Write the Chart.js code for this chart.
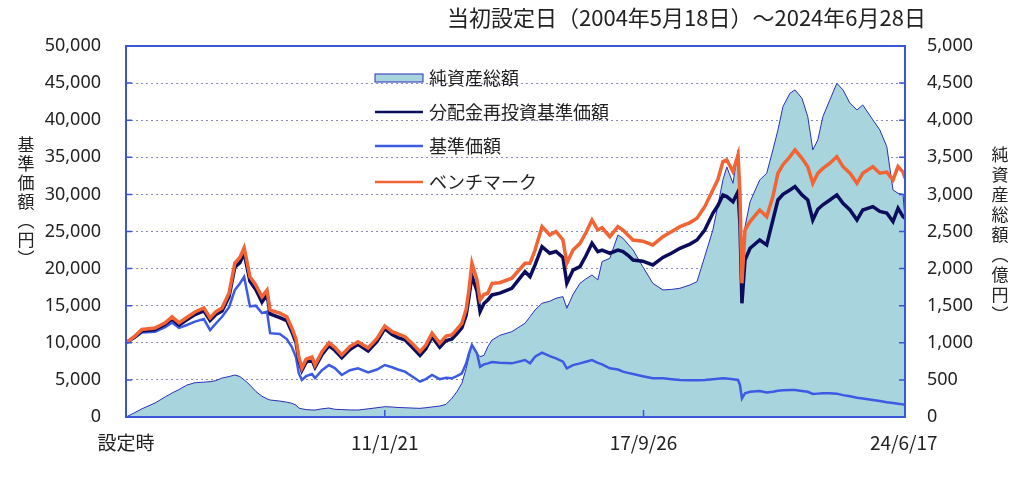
<!DOCTYPE html>
<html>
<head>
<meta charset="utf-8">
<script src="https://cdn.jsdelivr.net/npm/chart.js@4/dist/chart.umd.min.js"></script>
<style>
  body { margin: 0; background: #fff; }
</style>
</head>
<body>
<canvas id="fundChart" width="1024" height="484"></canvas>
<script>
// dates as decimal years (launch 2004/5/18 -> 2024/6/28)
var dates = [
  2004.38, 2004.61, 2004.79, 2005.13, 2005.39, 2005.57, 2005.75, 2005.95, 2006.16, 2006.39,
  2006.55, 2006.70, 2006.86, 2007.04, 2007.19, 2007.32, 2007.43, 2007.50, 2007.58, 2007.73,
  2007.89, 2008.02, 2008.10, 2008.35, 2008.53, 2008.66, 2008.77, 2008.84, 2008.92, 2009.03,
  2009.18, 2009.26, 2009.44, 2009.62, 2009.77, 2009.95, 2010.16, 2010.37, 2010.63, 2010.86,
  2011.06, 2011.25, 2011.40, 2011.58, 2011.79, 2011.97, 2012.12, 2012.28, 2012.48, 2012.64,
  2012.79, 2012.92, 2013.05, 2013.16, 2013.23, 2013.31, 2013.44, 2013.52, 2013.62, 2013.72,
  2013.83, 2014.03, 2014.34, 2014.68, 2014.81, 2014.94, 2015.12, 2015.32, 2015.48, 2015.66,
  2015.76, 2015.92, 2016.10, 2016.25, 2016.41, 2016.56, 2016.67, 2016.87, 2017.08, 2017.21,
  2017.34, 2017.47, 2017.72, 2017.98, 2018.24, 2018.47, 2018.68, 2018.94, 2019.12, 2019.32,
  2019.53, 2019.66, 2019.79, 2019.89, 2020.05, 2020.18, 2020.23, 2020.28, 2020.36, 2020.49,
  2020.74, 2020.92, 2021.08, 2021.21, 2021.34, 2021.52, 2021.65, 2021.83, 2021.98, 2022.11,
  2022.24, 2022.37, 2022.55, 2022.73, 2022.89, 2023.07, 2023.25, 2023.40, 2023.66, 2023.84,
  2024.02, 2024.18, 2024.31, 2024.44, 2024.49
];

// 純資産総額 (億円)
var netAssets = [
  0, 60, 110, 189, 270, 324, 370, 430, 462, 470,
  476, 490, 525, 545, 566, 545, 500, 470, 430, 345,
  280, 245, 229, 215, 200, 185, 160, 121, 110, 100,
  95, 94, 110, 121, 104, 100, 95, 94, 110, 125,
  139, 135, 128, 125, 120, 117, 125, 135, 148, 170,
  250, 340, 454, 650, 800, 980, 858, 813, 830, 947,
  1038, 1100, 1150, 1263, 1352, 1442, 1533, 1560, 1600, 1622,
  1465, 1650, 1802, 1860, 1914, 1847, 2094, 2139, 2453, 2409,
  2330, 2251, 2026, 1802, 1712, 1720, 1735, 1780, 1824, 2161,
  2521, 2850, 3195, 3370, 3150, 3600, 3000, 2300, 2565, 2900,
  3195, 3285, 3600, 3869, 4183, 4363, 4408, 4296, 4048, 3600,
  3734, 4048, 4273, 4498, 4408, 4229, 4138, 4206, 4004, 3869,
  3644, 3060, 3015, 3000, 2650
];

// 分配金再投資基準価額 (円)
var reinvestNav = [
  10000, 10800, 11600, 11800, 12500, 13200, 12400, 13100, 13800, 14300,
  13000, 13800, 14300, 16200, 20200, 20800, 22100, 20300, 18300, 17200,
  15500, 16500, 13900, 13400, 13000, 11500, 10000, 7700, 6300, 7400,
  7700, 6700, 8400, 9600, 9000, 8000, 9100, 9800, 8900, 10200,
  11900, 11100, 10700, 10400, 9300, 8300, 9200, 10800, 9400, 10300,
  10500, 11200, 12000, 13700, 16000, 19000, 17000, 14200, 15300, 15770,
  16450, 16700, 17350, 19590, 18920, 20500, 22960, 22070, 22300, 21500,
  18020, 19800, 20260, 21700, 23410, 22280, 22500, 22070, 22500, 22300,
  21800, 21160, 21000, 20490, 21500, 22100, 22740, 23300, 23860, 25200,
  27460, 28500, 29930, 29700, 29000, 30370, 26000, 15330, 21160, 22740,
  23860, 23190, 26550, 29250, 30000, 30600, 31050, 29930, 29250, 26550,
  28000, 28600, 29250, 29930, 28800, 27900, 26550, 27900, 28350, 27700,
  27500, 26330, 28130, 27000, 26790
];

// 基準価額 (円)
var nav = [
  10000, 10700, 11400, 11500, 12100, 12700, 12000, 12400, 12850, 13200,
  11700, 12600, 13500, 14800, 17100, 18000, 18900, 17000, 14900, 15000,
  14000, 14200, 11300, 11200, 10500, 9450, 8000, 5900, 5000, 5500,
  5800, 5250, 6300, 7000, 6600, 5660, 6300, 6560, 6000, 6400,
  7010, 6700, 6400, 6110, 5400, 4760, 5100, 5660, 5100, 5300,
  5210, 5500, 5890, 7200, 8500, 9700, 8590, 6780, 7100, 7230,
  7400, 7300, 7230, 7680, 7230, 8130, 8670, 8200, 7900, 7460,
  6560, 7000, 7230, 7450, 7680, 7300, 7100, 6560, 6400, 6110,
  5950, 5800, 5500, 5210, 5210, 5100, 4990, 4950, 4950, 5000,
  5100, 5150, 5210, 5200, 5100, 4990, 4300, 2520, 3200, 3410,
  3500, 3300, 3410, 3550, 3600, 3640, 3640, 3500, 3400, 3100,
  3150, 3200, 3200, 3150, 2950, 2800, 2600, 2500, 2290, 2150,
  2000, 1900, 1800, 1700, 1620
];

// ベンチマーク (円)
var benchmark = [
  10000, 10900, 11800, 12000, 12700, 13500, 12700, 13400, 14150, 14700,
  13350, 14200, 14700, 16700, 20750, 21500, 22800, 21000, 18900, 17800,
  16200, 17100, 14400, 14000, 13500, 12000, 10500, 8100, 6600, 7800,
  8100, 7000, 8800, 10000, 9400, 8360, 9500, 10150, 9300, 10600,
  12270, 11500, 11200, 10830, 9800, 8800, 9700, 11300, 9930, 10900,
  11050, 11800, 12630, 14500, 17000, 20720, 18470, 15770, 16500, 16680,
  18020, 18100, 18700, 20720, 20720, 22500, 25650, 24530, 25000, 23860,
  20720, 22500, 23410, 24800, 26550, 25200, 25500, 24300, 25650, 25200,
  24500, 23860, 23700, 23190, 24300, 25000, 25650, 26200, 26790, 28350,
  30600, 32000, 34420, 34650, 33070, 35320, 30000, 18020, 25200, 26330,
  27900, 27000, 29700, 32850, 34000, 35090, 36000, 34870, 33740, 31500,
  32850, 33500, 34200, 35090, 33740, 32850, 31500, 32850, 33740, 32850,
  33000, 31950, 33740, 33000, 32180
];

var tickDates = [2004.38, 2011.06, 2017.74, 2024.46];
var tickLabels = ['設定時', '11/1/21', '17/9/26', '24/6/17'];

var cjk = '"Noto Sans CJK JP", "Noto Sans", sans-serif';
var frameBlue = '#3b55d9';

function pts(arr) {
  return arr.map(function (v, i) { return { x: dates[i], y: v }; });
}

function drawVertical(ctx, text, x, y0, step) {
  var chars = Array.from(text);
  chars.forEach(function (c, i) {
    ctx.fillText(c, x, y0 + i * step);
  });
}

var decorations = {
  id: 'decorations',
  afterDraw: function (chart) {
    var ctx = chart.ctx;
    var a = chart.chartArea;
    var ys = chart.scales.y;
    var xs = chart.scales.x;
    ctx.save();

    // frame round the plot
    ctx.strokeStyle = frameBlue;
    ctx.lineWidth = 2;
    ctx.strokeRect(a.left, a.top, a.right - a.left, a.bottom - a.top);

    // inward tick marks
    ctx.lineWidth = 1.5;
    ctx.beginPath();
    ys.ticks.forEach(function (t) {
      var py = ys.getPixelForValue(t.value);
      ctx.moveTo(a.left, py); ctx.lineTo(a.left + 6, py);
      ctx.moveTo(a.right - 6, py); ctx.lineTo(a.right, py);
    });
    for (var i = 1; i < tickDates.length - 1; i++) {
      var px = xs.getPixelForValue(tickDates[i]);
      ctx.moveTo(px, a.bottom); ctx.lineTo(px, a.bottom - 7);
    }
    ctx.stroke();

    // title
    ctx.fillStyle = '#222';
    ctx.font = '22px ' + cjk;
    ctx.textAlign = 'left';
    ctx.textBaseline = 'middle';
    ctx.fillText('当初設定日（2004年5月18日）～2024年6月28日', 447, 18);

    // axis titles, written top to bottom
    ctx.font = '17px ' + cjk;
    ctx.textAlign = 'center';
    drawVertical(ctx, '基準価額︵円︶', 26, 145, 19);
    drawVertical(ctx, '純資産総額︵億円︶', 1000, 155, 20);

    // legend
    var rows = [78, 112, 146, 182];
    var lx = 375, lw = 48;
    ctx.font = '18px ' + cjk;
    ctx.textAlign = 'left';
    chart.data.datasets.forEach(function (ds, i) {
      var ly = rows[i];
      if (ds.fill) {
        ctx.fillStyle = ds.backgroundColor;
        ctx.fillRect(lx, ly - 4, lw, 8);
        ctx.strokeStyle = ds.borderColor;
        ctx.lineWidth = 1;
        ctx.strokeRect(lx, ly - 4, lw, 8);
      } else {
        ctx.strokeStyle = ds.borderColor;
        ctx.lineWidth = 2.5;
        ctx.beginPath();
        ctx.moveTo(lx, ly); ctx.lineTo(lx + lw, ly);
        ctx.stroke();
      }
      ctx.fillStyle = '#222';
      ctx.fillText(ds.label, lx + lw + 6, ly);
    });
    ctx.restore();
  }
};

var fundChart = new Chart(document.getElementById('fundChart'), {
  type: 'line',
  data: {
    datasets: [
      {
        label: '純資産総額',
        data: pts(netAssets),
        yAxisID: 'y2',
        fill: 'origin',
        backgroundColor: 'rgb(168,212,222)',
        borderColor: '#2a2fb5',
        borderWidth: 1,
        pointRadius: 0,
        order: 4
      },
      {
        label: '分配金再投資基準価額',
        data: pts(reinvestNav),
        yAxisID: 'y',
        fill: false,
        borderColor: '#0c0c5c',
        borderWidth: 3.5,
        pointRadius: 0,
        order: 2
      },
      {
        label: '基準価額',
        data: pts(nav),
        yAxisID: 'y',
        fill: false,
        borderColor: '#3d5ae3',
        borderWidth: 2.5,
        pointRadius: 0,
        order: 3
      },
      {
        label: 'ベンチマーク',
        data: pts(benchmark),
        yAxisID: 'y',
        fill: false,
        borderColor: '#f26434',
        borderWidth: 3.5,
        pointRadius: 0,
        order: 1
      }
    ]
  },
  options: {
    responsive: false,
    animation: false,
    layout: { padding: { top: 46, left: 0, right: 0, bottom: 0 } },
    plugins: {
      legend: { display: false },
      tooltip: { enabled: false }
    },
    scales: {
      x: {
        type: 'linear',
        min: 2004.38,
        max: 2024.49,
        afterBuildTicks: function (s) {
          s.ticks = tickDates.map(function (v) { return { value: v }; });
        },
        afterFit: function (s) { s.height = 67; },
        grid: { display: false, drawTicks: false },
        border: { display: false },
        ticks: {
          autoSkip: false,
          maxRotation: 0,
          padding: 14,
          color: '#222',
          font: { size: 19, family: cjk },
          callback: function (v) {
            var i = tickDates.indexOf(v);
            return i >= 0 ? tickLabels[i] : '';
          }
        }
      },
      y: {
        position: 'left',
        min: 0,
        max: 50000,
        afterFit: function (s) { s.width = 126; },
        grid: {
          drawTicks: false,
          lineWidth: 1,
          color: function (c) {
            var v = c.tick ? c.tick.value : 0;
            return (v === 0 || v === 50000) ? 'rgba(0,0,0,0)' : 'rgba(120,128,180,0.9)';
          }
        },
        border: { display: false, dash: [2, 3] },
        ticks: {
          stepSize: 5000,
          padding: 25,
          color: '#222',
          font: { size: 18, family: '"Noto Sans", sans-serif' },
          callback: function (v) { return v.toLocaleString('en-US'); }
        }
      },
      y2: {
        position: 'right',
        min: 0,
        max: 5000,
        afterFit: function (s) { s.width = 119; },
        grid: { display: false, drawTicks: false },
        border: { display: false },
        ticks: {
          stepSize: 500,
          padding: 22,
          color: '#222',
          font: { size: 18, family: '"Noto Sans", sans-serif' },
          callback: function (v) { return v.toLocaleString('en-US'); }
        }
      }
    }
  },
  plugins: [decorations]
});
</script>
</body>
</html>
